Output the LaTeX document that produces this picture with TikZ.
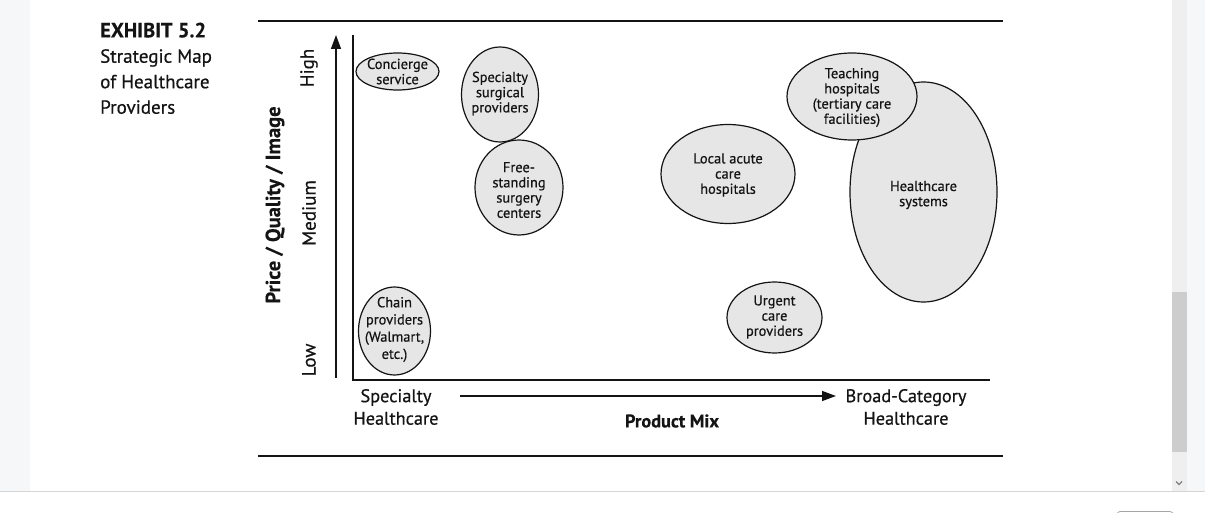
\documentclass[tikz,border=0pt]{standalone}
\usepackage{fontspec}
\setmainfont{PT Sans}[FakeBold=0.6,BoldFeatures={FakeBold=0.3}]
\usetikzlibrary{shapes.geometric,arrows.meta}
\definecolor{bubfill}{HTML}{E6E6E6}
\definecolor{chromebg}{HTML}{F6F7F9}
\definecolor{track}{HTML}{EFEFEF}
\definecolor{thumb}{HTML}{CDCDCD}
\definecolor{sepline}{HTML}{D6D6D6}
\definecolor{ink}{HTML}{141414}
\begin{document}
\begin{tikzpicture}[x=1pt,y=-1pt,
  bub/.style={ellipse,draw=ink,line width=1.2pt,fill=bubfill,inner sep=0pt},
  btxt/.style={align=center,font=\fontsize{14.4}{15.2}\selectfont,inner sep=0pt,text=ink},
  axlab/.style={font=\fontsize{18.3}{22.5}\selectfont,align=center,inner sep=0pt,text=ink},
  lvl/.style={font=\fontsize{19}{20}\selectfont,rotate=90,inner sep=0pt,text=ink},
  ttl/.style={font=\fontsize{19}{25.5}\selectfont,align=left,inner sep=0pt,anchor=north west,text=ink},
  rule/.style={draw=ink,line width=1.8pt},
  axis/.style={draw=ink,line width=1.4pt},
  arr/.style={draw=ink,line width=1.4pt,-{Triangle[length=14pt,width=10pt]}}]
\useasboundingbox (0,0) rectangle (1205,513);
% browser chrome
\fill[chromebg] (0,0) rectangle (30,491);
\fill[chromebg] (1187,0) rectangle (1205,491);
\fill[track] (1172,0) rectangle (1187,491);
\fill[thumb] (1172,292) rectangle (1187,452);
\draw[gray,line width=1.3pt] (1176,481.5) -- (1179,484.5) -- (1182,481.5);
\draw[sepline,line width=0.8pt] (0,491) -- (1205,491);
\draw[gray!70,line width=0.8pt,rounded corners=3pt] (1117,513) -- (1117,511.5) -- (1173,511.5) -- (1173,513);
% rules
\coordinate (rtl) at (258,21); \coordinate (rtr) at (1003,21);
\coordinate (rbl) at (258,456); \coordinate (rbr) at (1003,456);
\draw[rule] (rtl) -- (rtr);
\draw[rule] (rbl) -- (rbr);
% title
\node[ttl,font=\fontsize{20.5}{25.5}\selectfont\bfseries] (exh) at (100,22.5) {EXHIBIT 5.2};
\node[ttl] (title) at (100,49) {Strategic Map\\of Healthcare\\Providers};
% frame
\coordinate (ftop) at (353,35); \coordinate (forig) at (353,380); \coordinate (fright) at (990,380);
\draw[axis] (ftop) -- (forig) -- (fright);
% y arrow
\coordinate (yb) at (336,378); \coordinate (yt) at (336,35);
\draw[arr] (yb) -- (yt);
\node[lvl,font=\fontsize{20.5}{22}\selectfont\bfseries] (pqi) at (275,205) {Price / Quality / Image};
\node[lvl] (high) at (309,68) {High};
\node[lvl] (med) at (309,213) {Medium};
\node[lvl] (low) at (309,360) {Low};
% x arrow
\node[axlab] (spec) at (396,407) {Specialty\\Healthcare};
\node[axlab] (broad) at (906,407) {Broad-Category\\Healthcare};
\node[axlab,font=\fontsize{18.3}{22.5}\selectfont\bfseries] (pmix) at (672,421) {Product Mix};
\coordinate (xa) at (460,396); \coordinate (xb) at (836,396);
\draw[arr] (xa) -- (xb);
% bubbles
\node[bub,minimum width=83pt,minimum height=37pt] (con) at (397.5,71.5) {};
\node[btxt] at (con) {Concierge\\service};
\node[bub,minimum width=77pt,minimum height=95pt] (ssp) at (500,94.5) {};
\node[btxt] at (500,93.5) {Specialty\\surgical\\providers};
\node[bub,minimum width=88pt,minimum height=95pt] (fss) at (519,187.5) {};
\node[btxt] at (519,190) {Free-\\standing\\surgery\\centers};
\node[bub,minimum width=72pt,minimum height=88pt] (chain) at (394.5,331) {};
\node[btxt,font=\fontsize{14.4}{17.2}\selectfont] at (394.5,329.5) {Chain\\providers\\(Walmart,\\etc.)};
\node[bub,minimum width=134pt,minimum height=99pt] (lac) at (728,174) {};
\node[btxt] at (728,175) {Local acute\\care\\hospitals};
\node[bub,minimum width=147pt,minimum height=220pt] (hcs) at (923.5,192) {};
\node[btxt] at (923.5,195) {Healthcare\\systems};
\node[bub,minimum width=130pt,minimum height=87pt] (teach) at (852,96.5) {};
\node[btxt] at (852,97.5) {Teaching\\hospitals\\(tertiary care\\facilities)};
\node[bub,minimum width=95pt,minimum height=71pt] (urg) at (774.5,317.5) {};
\node[btxt] at (774.5,317) {Urgent\\care\\providers};
\end{tikzpicture}
\end{document}
